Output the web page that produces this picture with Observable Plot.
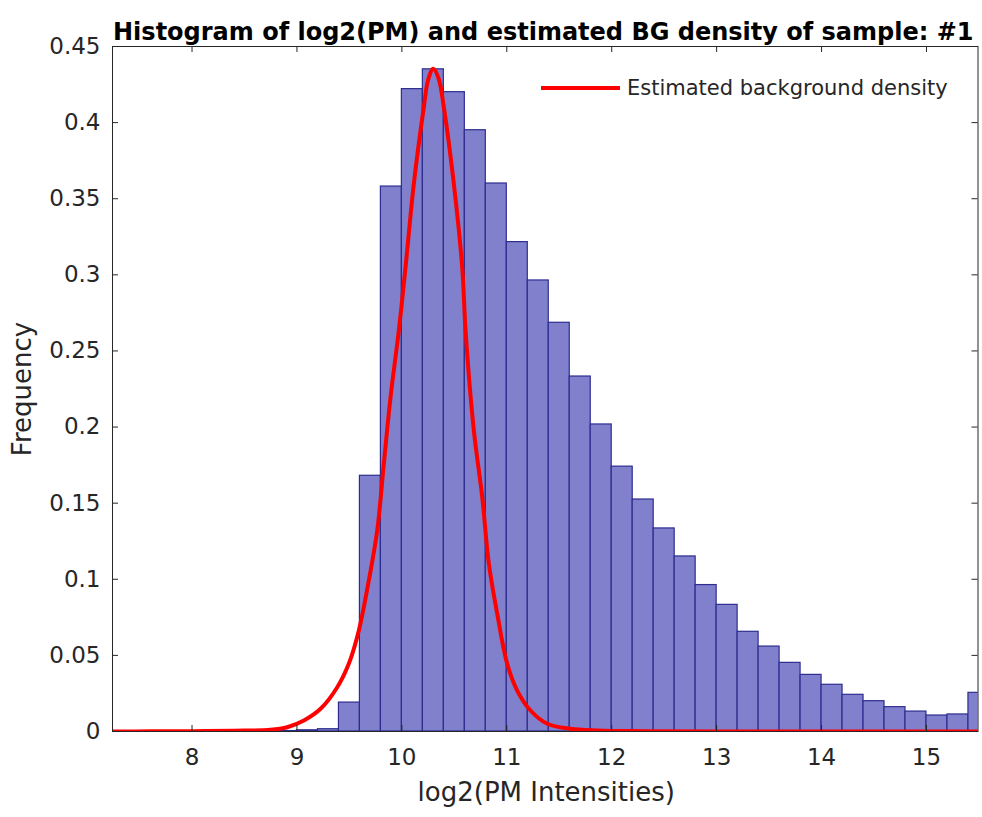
<!DOCTYPE html>
<html>
<head>
<meta charset="utf-8">
<script src="https://cdn.jsdelivr.net/npm/d3@7"></script>
<script src="https://cdn.jsdelivr.net/npm/@observablehq/plot@0.6"></script>
<style>
  html, body { margin: 0; padding: 0; background: #fff; }
  #wrap { position: relative; width: 982px; height: 817px; font-family: "DejaVu Sans", "Liberation Sans", Arial, sans-serif; }
  #legend { position: absolute; left: 541px; top: 76px; display: flex; align-items: center; color: #262626; font-size: 21px; }
  #legend .swatch { width: 79px; height: 4px; background: #ff0000; margin-right: 7px; }
</style>
</head>
<body>
<div id="wrap"><div id="legend"><div class="swatch"></div><span>Estimated background density</span></div></div>
<script>
// ---- data ----
const titleText = "Histogram of log2(PM) and estimated BG density of sample: #1";
const xLabel = "log2(PM Intensities)";
const yLabel = "Frequency";
const legendLabel = "Estimated background density";

const xTicks = [8, 9, 10, 11, 12, 13, 14, 15];
const yTicks = [0, 0.05, 0.1, 0.15, 0.2, 0.25, 0.3, 0.35, 0.4, 0.45];
const xDomain = [7.242, 15.491];
const yDomain = [0, 0.45];

const binWidth = 0.2;
const binStarts = [8.8, 9.0, 9.2, 9.4, 9.6, 9.8, 10.0, 10.2, 10.4, 10.6, 10.8, 11.0, 11.2, 11.4, 11.6, 11.8,
  12.0, 12.2, 12.4, 12.6, 12.8, 13.0, 13.2, 13.4, 13.6, 13.8, 14.0, 14.2, 14.4, 14.6, 14.8, 15.0, 15.2, 15.4];
const binFreq = [0.0003, 0.0008, 0.0015, 0.019, 0.168, 0.358, 0.422, 0.435, 0.420, 0.395, 0.360, 0.3215, 0.2963, 0.2685, 0.2332, 0.2017,
  0.174, 0.1524, 0.1334, 0.115, 0.0962, 0.0832, 0.0655, 0.0558, 0.0451, 0.0372, 0.0307, 0.0241, 0.0199, 0.016, 0.0131, 0.0105, 0.0112, 0.0254];

const curveX = [7.242, 7.6, 8.0, 8.4, 8.748, 8.907, 9.066, 9.225, 9.384, 9.494, 9.59, 9.685, 9.765, 9.828, 9.892, 9.971, 10.035, 10.114, 10.209, 10.25, 10.299,
  10.35, 10.4, 10.495, 10.575, 10.607, 10.686, 10.766, 10.829, 10.909, 11.004, 11.099, 11.226, 11.385, 11.607, 11.86, 12.3, 13.0, 14.0, 15.491];
const curveY = [0.0, 0.0001, 0.0002, 0.0005, 0.0011, 0.0028, 0.0072, 0.0149, 0.0291, 0.0445, 0.0664, 0.0992, 0.132, 0.1759, 0.2196, 0.2634, 0.305, 0.3598, 0.410, 0.428, 0.4354,
  0.429, 0.410, 0.3598, 0.305, 0.2634, 0.1977, 0.1539, 0.1102, 0.0773, 0.0445, 0.0269, 0.0138, 0.0051, 0.0018, 0.0007, 0.0002, 0.0, 0.0, 0.0];

// ---- tables built from the arrays ----
const bins = binStarts.map((lo, i) => ({lo, hi: lo + binWidth, freq: binFreq[i]}));
const curve = curveX.map((x, i) => ({x, y: curveY[i]}));

const W = 982, H = 817, mL = 112, mR = 4.5, mT = 46, mB = 86;
const plotW = W - mL - mR, plotH = H - mT - mB;
const ink = "#262626";
const tick = 6;
const font = '"DejaVu Sans", "Liberation Sans", Arial, sans-serif';

const chart = Plot.plot({
  width: W, height: H,
  marginLeft: mL, marginRight: mR, marginTop: mT, marginBottom: mB,
  style: {fontFamily: font, color: ink, background: "transparent", overflow: "visible"},
  x: {domain: xDomain},
  y: {domain: yDomain},
  marks: [
    Plot.rect(bins, {x1: "lo", x2: "hi", y1: 0, y2: "freq", fill: "#8080cc", stroke: "#2d2d90", strokeWidth: 1.2, clip: true}),
    Plot.line(curve, {x: "x", y: "y", stroke: "#ff0000", strokeWidth: 4, curve: "catmull-rom", clip: true}),
    Plot.frame({stroke: ink, strokeWidth: 1}),
    Plot.tickX(xTicks, {x: d => d, insetTop: plotH - tick, stroke: ink}),
    Plot.tickX(xTicks, {x: d => d, insetBottom: plotH - tick, stroke: ink}),
    Plot.tickY(yTicks, {y: d => d, insetRight: plotW - tick, stroke: ink}),
    Plot.tickY(yTicks, {y: d => d, insetLeft: plotW - tick, stroke: ink}),
    Plot.axisX({ticks: xTicks, tickSize: 0, tickPadding: 17, fontSize: 23, label: null, tickFormat: d => String(d)}),
    Plot.axisY({ticks: yTicks, tickSize: 0, tickPadding: 12, fontSize: 23, label: null, tickFormat: d => String(d)}),
    Plot.text([titleText], {text: d => d, frameAnchor: "top", dx: -2, dy: -24, fontSize: 24, fontWeight: "bold", fill: "#000"}),
    Plot.text([xLabel], {text: d => d, frameAnchor: "bottom", dx: 1, dy: 69, fontSize: 26, fill: ink}),
    Plot.text([yLabel], {text: d => d, frameAnchor: "left", textAnchor: "middle", dx: -90, rotate: -90, fontSize: 26, fill: ink})
  ]
});
document.getElementById("wrap").prepend(chart);
document.querySelector("#legend span").textContent = legendLabel;
</script>
</body>
</html>
